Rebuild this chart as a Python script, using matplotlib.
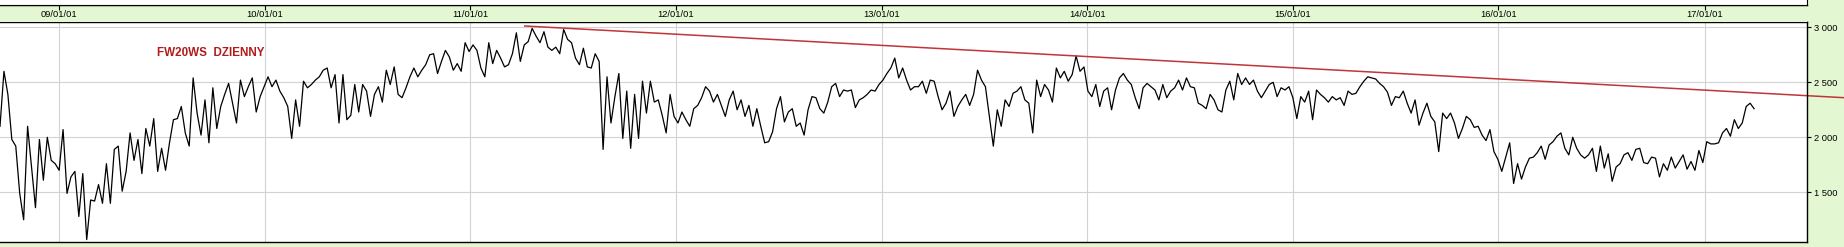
import matplotlib
matplotlib.use("Agg")
import matplotlib.pyplot as plt
import matplotlib.transforms as mtransforms
import pandas as pd

# weekly closes, split in chunks (start 2008-09-18)
part1 = [2100, 2600, 2390, 1980, 1920, 1490, 1250, 2100, 1730, 1360,
         1980, 1610, 2000, 1790, 1760, 1700, 2070, 1490, 1640, 1690,
         1280, 1670, 1070, 1430, 1420, 1570, 1400, 1760, 1400, 1890,
         1920, 1510, 1690, 2040, 1790, 1980, 1670, 2080, 1920, 2170,
         1690, 1900, 1700, 1950, 2160, 2170, 2280, 2040, 1920, 2540,
         2220, 2020, 2340, 1950, 2450, 2080, 2280, 2390, 2490, 2310,
         2130, 2520, 2370, 2460, 2540, 2230]
part2 = [2370, 2460, 2550, 2460, 2520, 2420, 2360, 2280, 1990, 2340,
         2100, 2510, 2450, 2480, 2520, 2550, 2610, 2630, 2450, 2570,
         2130, 2570, 2160, 2200, 2480, 2230, 2480, 2420, 2190, 2390,
         2460, 2320, 2610, 2480, 2640, 2390, 2360, 2450, 2550, 2630,
         2550, 2610, 2660, 2750, 2760, 2580, 2690, 2790, 2730, 2610,
         2670, 2600, 2860, 2780, 2840, 2790, 2630, 2550, 2860, 2670,
         2790, 2720, 2640, 2660]
part3 = [2760, 2950, 2690, 2840, 2870, 2990, 2920, 2860, 2960, 2820,
         2790, 2820, 2760, 2980, 2890, 2860, 2720, 2660, 2810, 2640,
         2630, 2760, 2690, 1890, 2550, 2130, 2370, 2580, 1990, 2420,
         1900, 2390, 1990, 2510, 2220, 2510, 2320, 2340, 2200, 2040,
         2390, 2190, 2130, 2230, 2160, 2100, 2260, 2290, 2360, 2460,
         2420, 2320, 2390, 2290, 2190, 2340, 2420, 2250, 2340, 2190,
         2290, 2100, 2260]
part4 = [2100, 1950, 1960, 2050, 2260, 2370, 2140, 2230, 2260, 2100,
         2130, 2020, 2250, 2370, 2360, 2260, 2220, 2320, 2460, 2490,
         2370, 2430, 2420, 2430, 2270, 2340, 2360, 2390, 2430, 2420,
         2480, 2520, 2580, 2630, 2720, 2540, 2630, 2520, 2430, 2460,
         2460, 2510, 2400, 2520, 2510, 2370, 2250, 2310, 2420, 2190,
         2280, 2340, 2390, 2290, 2390, 2610, 2520, 2460, 2190, 1920,
         2250, 2100, 2340, 2280]
part5 = [2400, 2420, 2460, 2340, 2310, 2040, 2520, 2370, 2480, 2430,
         2320, 2630, 2540, 2600, 2510, 2570, 2740, 2600, 2640, 2420,
         2370, 2480, 2280, 2420, 2450, 2250, 2430, 2540, 2580, 2520,
         2480, 2360, 2260, 2450, 2490, 2460, 2430, 2340, 2480, 2360,
         2420, 2450, 2520, 2430, 2540, 2460, 2450, 2310, 2290, 2260,
         2390, 2340, 2250, 2230, 2430, 2510, 2340, 2580, 2480, 2540,
         2480, 2520, 2420]
part6 = [2360, 2420, 2480, 2500, 2370, 2450, 2430, 2460, 2360, 2170,
         2370, 2320, 2420, 2160, 2430, 2390, 2360, 2320, 2370, 2340,
         2360, 2290, 2420, 2390, 2400, 2460, 2510, 2550, 2540, 2530,
         2490, 2460, 2410, 2290, 2370, 2360, 2420, 2310, 2220, 2340,
         2110, 2220, 2310, 2190, 2140, 1870, 2220, 2170, 2220, 2130,
         1990, 2080, 2190, 2160, 2090, 2100, 2020, 1970, 2070, 1870,
         1800, 1690, 1820, 1950]
part7 = [1580, 1760, 1620, 1730, 1810, 1820, 1860, 1920, 1800, 1930,
         1960, 2010, 2040, 1900, 1840, 2000, 1900, 1840, 1810, 1840,
         1900, 1690, 1920, 1720, 1850, 1600, 1730, 1760, 1840, 1860,
         1790, 1890, 1900, 1770, 1760, 1820, 1810, 1640, 1760, 1700,
         1820, 1720, 1780, 1840, 1710, 1780, 1700, 1880, 1770, 1960,
         1940, 1940, 1950, 2040, 2080, 2010, 2160, 2080, 2130, 2280,
         2310, 2260]

ceny = part1 + part2 + part3 + part4 + part5 + part6 + part7
daty = pd.date_range("2008-09-18", periods=len(ceny), freq="7D")

trend_daty = pd.to_datetime(["2011-04-08", "2017-09-06"])
trend_ceny = [3012, 2360]

lata = pd.to_datetime([f"{r}-01-01" for r in range(2009, 2018)])
lata_lbl = [d.strftime("%y/%m/%d") for d in lata]
poziomy = [1500, 2000, 2500, 3000]
poziomy_lbl = ["1 500", "2 000", "2 500", "3 000"]

ZIELONY = "#e4f7d3"
FONT = "Liberation Sans"

fig = plt.figure(figsize=(18.44, 2.47), dpi=100, facecolor=ZIELONY)
W = 1807 / 1844
B = 5 / 247
H = (242 - 21.7) / 247
ax = fig.add_axes([0, B, W, H])
ax.set_facecolor("white")

ax.plot(daty, ceny, color="black", lw=0.9)
ax.plot(trend_daty, trend_ceny, color="#c0343a", lw=1.1, clip_on=False)

ax.set_xlim(pd.Timestamp("2008-09-18"), pd.Timestamp("2017-07-02"))
ax.set_ylim(1048, 3051)
ax.set_xticks(lata)
ax.set_xticklabels([])
ax.tick_params(axis="x", length=0)
ax.yaxis.tick_right()
ax.set_yticks(poziomy)
ax.set_yticklabels(poziomy_lbl, fontsize=6.7, family=FONT)
ax.tick_params(axis="y", direction="out", length=3, width=0.8, pad=2)
ax.grid(True, color="#d2d2d2", lw=0.8)
ax.set_axisbelow(True)
ax.spines["left"].set_visible(False)
for s in ["top", "bottom", "right"]:
    ax.spines[s].set_linewidth(1.0)

ax.text(157 / 1807, (242 - 53) / 220.3, "FW20WS  DZIENNY", transform=ax.transAxes,
        color="#b01c1c", fontsize=8.4, fontweight="bold", family=FONT,
        ha="left", va="center")

# pasek z datami nad wykresem
pasek = fig.add_axes([0, B + H, W, (21.7 - 5) / 247], sharex=ax)
pasek.set_facecolor(ZIELONY)
for s in ["left", "right", "bottom"]:
    pasek.spines[s].set_visible(False)
pasek.spines["top"].set_linewidth(1.0)
pasek.tick_params(axis="x", top=True, bottom=False, labeltop=False,
                  labelbottom=False, direction="in", length=3.5, width=0.8)
pasek.tick_params(axis="y", left=False, labelleft=False)
tr = mtransforms.blended_transform_factory(pasek.transData, pasek.transAxes)
for d, lbl in zip(lata, lata_lbl):
    pasek.text(d, 0.45, lbl, transform=tr, ha="center", va="center",
               fontsize=6.7, family=FONT)

# dolna krawedz panelu powyzej
gora = fig.add_axes([0, (247 - 5) / 247, W, 0.05])
gora.set_facecolor("white")
gora.set_xticks([])
gora.set_yticks([])
gora.spines["left"].set_visible(False)

fig.savefig("out.png", dpi=100, facecolor=ZIELONY)
